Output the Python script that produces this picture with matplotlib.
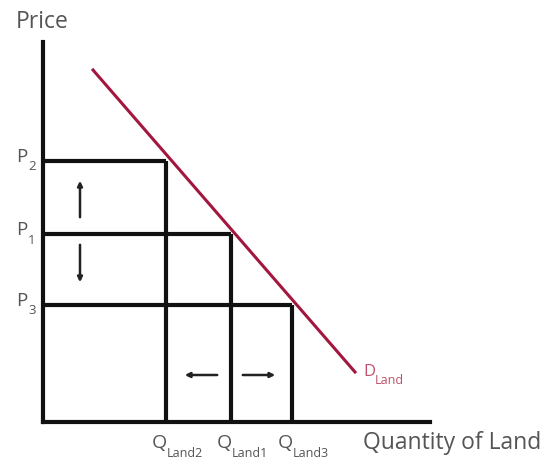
import matplotlib.pyplot as plt

plt.rcParams['font.family'] = 'Open Sans'

# quantities and prices (arbitrary units)
quantities = [123, 188, 249]          # Q_Land2, Q_Land1, Q_Land3
prices = [261, 188, 117]              # P2, P1, P3
q_labels = ['Land2', 'Land1', 'Land3']
p_labels = ['2', '1', '3']

# demand curve end points
demand_q = [50, 312]
demand_p = [352, 50]

line_col = '#111111'
red = '#a3173f'
txt = '#555555'

fig = plt.figure(figsize=(5.47, 4.69), dpi=100)
ax = fig.add_axes([43/547, 47/469, 387/547, 380/469])
ax.set_xlim(0, 387)
ax.set_ylim(0, 380)
for s in ['top', 'right']:
    ax.spines[s].set_visible(False)
for s in ['left', 'bottom']:
    ax.spines[s].set_linewidth(3)
    ax.spines[s].set_color(line_col)
ax.set_xticks([])
ax.set_yticks([])

# price/quantity boxes
for q, p in zip(quantities, prices):
    ax.plot([0, q], [p, p], color=line_col, lw=3, solid_capstyle='butt', zorder=2)
    ax.plot([q, q], [0, p], color=line_col, lw=3, solid_capstyle='butt', zorder=2)

# demand line
ax.plot(demand_q, demand_p, color=red, lw=2.2, zorder=3)
ax.text(demand_q[1] + 8, demand_p[1], 'D', color='#c0506a',
        fontsize=12, va='center', ha='left')
ax.text(demand_q[1] + 20, demand_p[1] - 8, 'Land', color='#c0506a',
        fontsize=9, va='center', ha='left')

# arrows
arrow = dict(arrowstyle='-|>', color='#222222', lw=1.8, mutation_scale=7)
ax.annotate('', xy=(37, 244), xytext=(37, 202), arrowprops=arrow)
ax.annotate('', xy=(37, 137), xytext=(37, 180), arrowprops=arrow)
ax.annotate('', xy=(139, 47), xytext=(177, 47), arrowprops=arrow)
ax.annotate('', xy=(235, 47), xytext=(197, 47), arrowprops=arrow)

# labels
for q, lab in zip(quantities, q_labels):
    ax.text(q - 7, -21, 'Q', color=txt, fontsize=14, ha='center',
            va='center', clip_on=False)
    ax.text(q + 1, -31, lab, color=txt, fontsize=9, ha='left',
            va='center', clip_on=False)
for p, lab in zip(prices, p_labels):
    ax.text(-21, p + 4, 'P', color=txt, fontsize=13.5, ha='center',
            va='center', clip_on=False)
    ax.text(-15, p - 6, lab, color=txt, fontsize=9.5, ha='left',
            va='center', clip_on=False)
ax.text(-43 + 16, 400, 'Price', color=txt, fontsize=16.5, ha='left',
        va='center', clip_on=False)
ax.text(320, -9, 'Quantity of Land', color=txt, fontsize=16.5, ha='left',
        va='top', clip_on=False)

fig.savefig('out.png', dpi=100)
